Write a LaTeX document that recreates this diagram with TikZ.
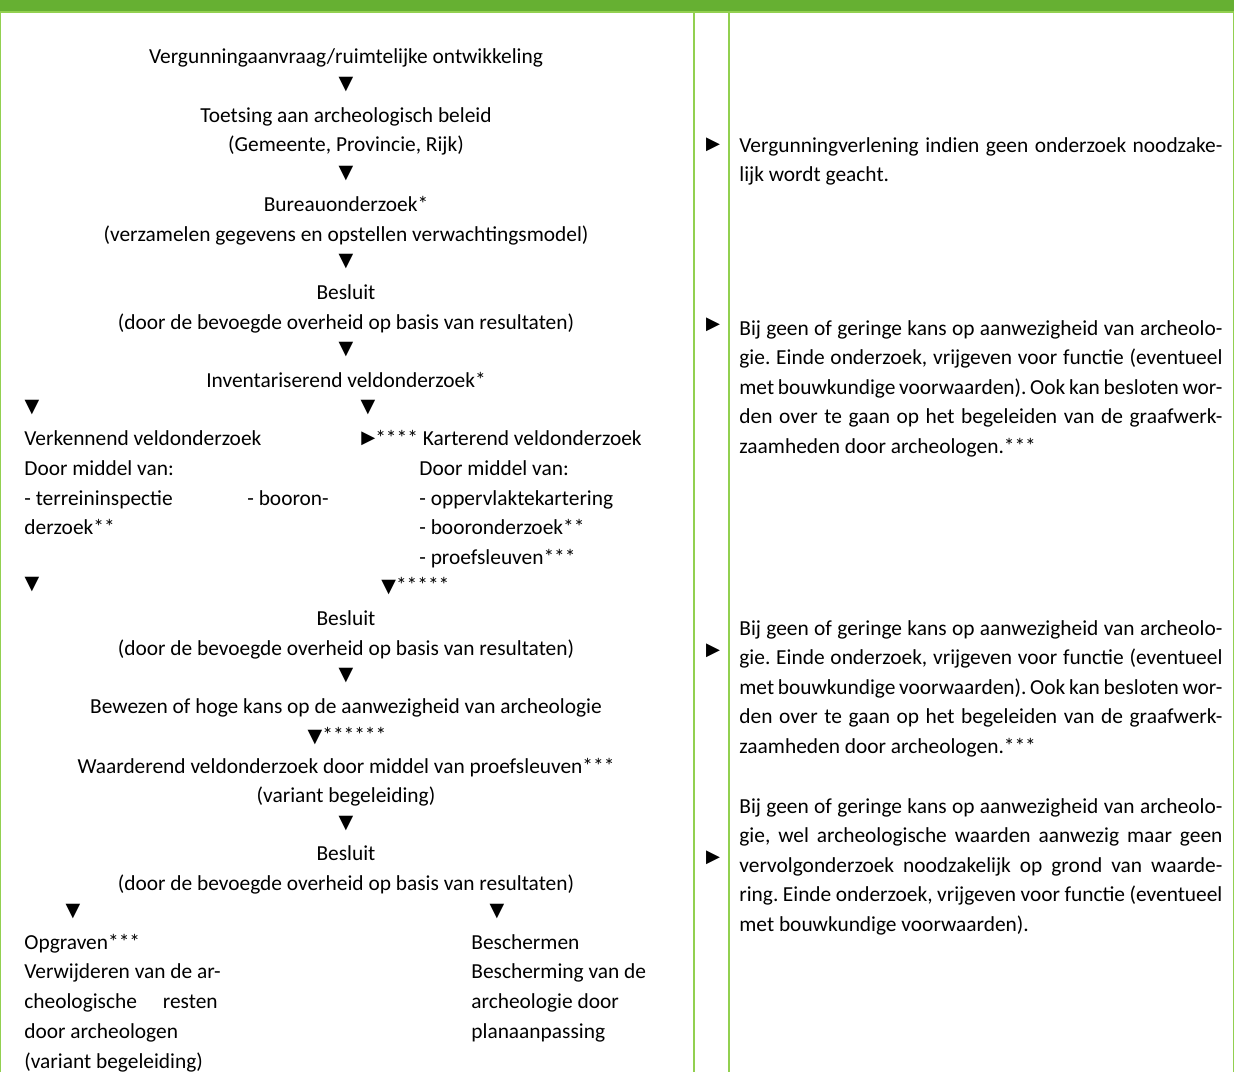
\documentclass[tikz,border=0pt]{standalone}
\usepackage{fontspec}
\setmainfont{Carlito}
\newfontfamily\trifont{DejaVu Sans}
\definecolor{BarGreen}{HTML}{66B032}
\definecolor{RuleGreen}{HTML}{92D050}
\newcommand{\tridn}{{\trifont\fontsize{10}{10}\selectfont ▼}}
\newcommand{\trirt}{{\trifont\fontsize{9.5}{10}\selectfont ▶}}
\newcommand{\geenkans}{Bij geen of geringe kans op aanwezigheid van archeolo-\linebreak
  gie. Einde onderzoek, vrijgeven voor functie (eventueel\linebreak
  met bouwkundige voorwaarden). Ook kan besloten wor-\linebreak
  den over te gaan op het begeleiden van de graafwerk-\linebreak
  zaamheden door archeologen.***}

\begin{document}
\frenchspacing
\begin{tikzpicture}[x=0.5236pt,y=-0.5236pt,
    every node/.style={inner sep=0pt,font=\fontsize{11.2}{15.45}\selectfont},
    ctr/.style={anchor=base},
    lft/.style={anchor=base west},
    rgt/.style={anchor=base east},
    tri/.style={font=\trifont\fontsize{10}{10}\selectfont},
    trir/.style={font=\trifont\fontsize{9.5}{10}\selectfont},
    note/.style={anchor=base west,text width=252.9pt,align=justify}]
  \useasboundingbox (0,0) rectangle (1234,1072);
  % frame of the table
  \fill[BarGreen] (0,0) rectangle (1234,11);
  \fill[RuleGreen] (0,11) rectangle (1234,13);
  \draw[RuleGreen,line width=0.6pt] (0.6,13) -- (0.6,1072);
  \draw[RuleGreen,line width=1.2pt] (694,13) -- (694,1072);
  \draw[RuleGreen,line width=1.2pt] (729,13) -- (729,1072);
  \draw[RuleGreen,line width=0.6pt] (1233.4,13) -- (1233.4,1072);

  % left column: procedure
  \node[ctr] (aanvraag) at (346,63) {Vergunningaanvraag/ruimtelijke ontwikkeling};
  \node[tri] (v1) at (346,85) {▼};
  \node[ctr] (toetsing) at (346,122) {Toetsing aan archeologisch beleid};
  \node[ctr] (overheden) at (346,151) {(Gemeente, Provincie, Rijk)};
  \node[tri] (v2) at (346,174) {▼};
  \node[ctr] (bureau) at (346,211) {Bureauonderzoek*};
  \node[ctr] (bureaub) at (346,241) {(verzamelen gegevens en opstellen verwachtingsmodel)};
  \node[tri] (v3) at (346,262) {▼};
  \node[ctr] (besluita) at (346,299) {Besluit};
  \node[ctr] (besluitab) at (346,329) {(door de bevoegde overheid op basis van resultaten)};
  \node[tri] (v4) at (346,350) {▼};
  \node[ctr] (invent) at (346,387) {Inventariserend veldonderzoek*};
  \node[tri] (v5) at (32,408) {▼};
  \node[tri] (v6) at (368,408) {▼};

  \node[lft] (verk) at (24,445) {Verkennend veldonderzoek};
  \node[lft] (verkb) at (24,475) {Door middel van:};
  \node[lft] (verkc) at (24,505) {- terreininspectie};
  \node[lft] (verkd) at (247,505) {- booron-};
  \node[lft] (verke) at (24,534) {derzoek**};
  \node[lft] (kart) at (361,445) {\raisebox{0.6pt}{\trirt}**** Karterend veldonderzoek};
  \node[lft] (kartb) at (419,475) {Door middel van:};
  \node[lft] (kartc) at (419,505) {- oppervlaktekartering};
  \node[lft] (kartd) at (419,534) {- booronderzoek**};
  \node[lft] (karte) at (419,564) {- proefsleuven***};
  \node[tri] (v7) at (32,585) {▼};
  \node[lft] (v8) at (381,592) {\tridn*****};

  \node[ctr] (besluitb) at (346,625) {Besluit};
  \node[ctr] (besluitbb) at (346,655) {(door de bevoegde overheid op basis van resultaten)};
  \node[tri] (v9) at (346,676) {▼};
  \node[ctr] (bewezen) at (346,713) {Bewezen of hoge kans op de aanwezigheid van archeologie};
  \node[ctr] (v10) at (347,742) {\tridn******};
  \node[ctr] (waard) at (346,773) {Waarderend veldonderzoek door middel van proefsleuven***};
  \node[ctr] (waardb) at (346,802) {(variant begeleiding)};
  \node[tri] (v11) at (346,824) {▼};
  \node[ctr] (besluitc) at (346,860) {Besluit};
  \node[ctr] (besluitcb) at (346,890) {(door de bevoegde overheid op basis van resultaten)};
  \node[tri] (v12) at (73,912) {▼};
  \node[tri] (v13) at (497,912) {▼};

  \node[lft] (opgr) at (24,949) {Opgraven***};
  \node[lft] (opgrb) at (24,978) {Verwijderen van de ar-};
  \node[lft] (opgrc) at (24,1008) {cheologische};
  \node[rgt] (opgrd) at (218,1008) {resten};
  \node[lft] (opgre) at (24,1038) {door archeologen};
  \node[lft] (opgrf) at (24,1068) {(variant begeleiding)};
  \node[lft] (bescherm) at (471,949) {Beschermen};
  \node[lft] (beschermb) at (471,978) {Bescherming van de};
  \node[lft] (beschermc) at (471,1008) {archeologie door};
  \node[lft] (beschermd) at (471,1038) {planaanpassing};

  % right column: outcomes
  \node[trir] (r1) at (713,145) {▶};
  \node[note] (uit1) at (739,152) {Vergunningverlening indien geen onderzoek noodzake-\linebreak
    lijk wordt geacht.};
  \node[trir] (r2) at (713,325) {▶};
  \node[note] (uit2) at (739,335) {\geenkans};
  \node[trir] (r3) at (713,651) {▶};
  \node[note] (uit3) at (739,635) {\geenkans};
  \node[trir] (r4) at (713,858) {▶};
  \node[note] (uit4) at (739,813) {Bij geen of geringe kans op aanwezigheid van archeolo-\linebreak
    gie, wel archeologische waarden aanwezig maar geen\linebreak
    vervolgonderzoek noodzakelijk op grond van waarde-\linebreak
    ring. Einde onderzoek, vrijgeven voor functie (eventueel\linebreak
    met bouwkundige voorwaarden).};
\end{tikzpicture}
\end{document}
